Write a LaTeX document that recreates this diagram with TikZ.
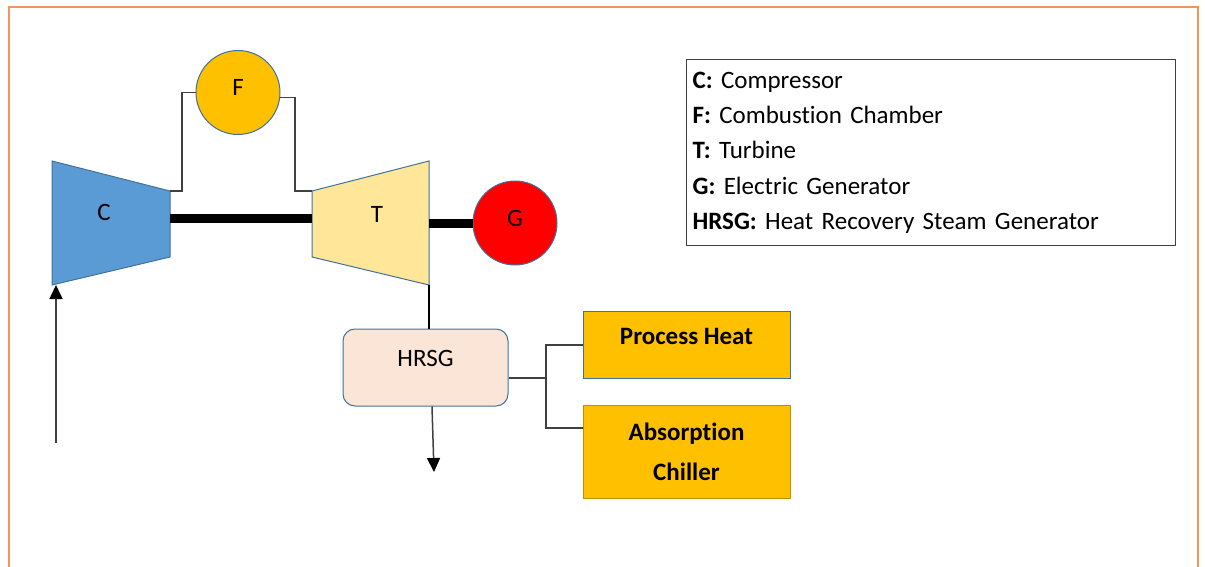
\documentclass[tikz,border=0pt]{standalone}
\usepackage{fontspec}
\setmainfont{Carlito}[Ligatures=NoCommon]
\usepackage{xcolor}
\usepackage{tikz}
\usetikzlibrary{shapes, arrows.meta, positioning, calc}
\frenchspacing

\definecolor{frameorange}{RGB}{241,150,90}
\definecolor{edgeblue}{RGB}{65,113,156}
\definecolor{compblue}{RGB}{91,155,213}
\definecolor{turbyellow}{RGB}{255,230,153}
\definecolor{fuelgold}{RGB}{255,192,0}
\definecolor{hrsgpink}{RGB}{251,229,214}
\definecolor{darkgold}{RGB}{191,144,0}
\definecolor{pipegray}{RGB}{64,64,64}

\begin{document}
\begin{tikzpicture}[
    x=1pt, y=-1pt,
    font=\fontsize{25}{30}\selectfont,
    machine/.style={
        draw=edgeblue,
        line width=1pt
    },
    unit/.style={
        circle,
        draw=edgeblue,
        line width=1pt,
        minimum size=84pt,
        inner sep=0pt,
        text height=16pt,
        text depth=10pt
    },
    block/.style={
        draw=edgeblue,
        line width=1pt,
        minimum width=207pt,
        inner sep=0pt,
        fill=fuelgold,
        align=center,
        font=\fontsize{25}{40}\selectfont\bfseries
    },
    shaft/.style={draw, line width=9pt},
    line/.style={draw=pipegray, line width=1.5pt},
    flow/.style={draw=pipegray, line width=1.5pt, -{Triangle[width=13pt,length=14pt,color=black]}}
]
\useasboundingbox (0,0) rectangle (1205,567);

% frame
\draw[frameorange, line width=2pt] (9,567) -- (9,7) -- (1198,7) -- (1198,567);

% compressor
\coordinate (C-nw) at (52,161);
\coordinate (C-sw) at (52,285);
\coordinate (C-ne) at (170,191);
\coordinate (C-se) at (170,257);
\filldraw[machine, fill=compblue] (C-nw) -- (C-ne) -- (C-se) -- (C-sw) -- cycle;
\node (C) at (104,212) {C};

% turbine
\coordinate (T-nw) at (312,191);
\coordinate (T-sw) at (312,257);
\coordinate (T-ne) at (429,161);
\coordinate (T-se) at (429,285);
\filldraw[machine, fill=turbyellow] (T-nw) -- (T-ne) -- (T-se) -- (T-sw) -- cycle;
\node (T) at (377,214) {T};

\node[unit, fill=fuelgold] (F) at (238,92.5) {F};
\node[unit, fill=red] (G) at (515,223) {G};

\node[draw=edgeblue, line width=1pt, rounded corners=12pt, fill=hrsgpink,
      minimum width=165pt, minimum height=77pt, inner sep=0pt,
      text height=17pt, text depth=20pt] (hrsg) at (425.5,367.5) {HRSG};

\node[block, minimum height=67pt, text height=17pt, text depth=17pt]
    (heat) at (686.5,344.5) {Process Heat};
\node[block, draw=darkgold, minimum height=93pt]
    (chill) at (686.5,451.5) {Absorption\\Chiller};

% legend
\node[draw=pipegray, line width=1.2pt, anchor=north west,
      minimum width=489pt, minimum height=186pt,
      text width=477pt, inner xsep=6pt, align=left,
      font=\fontsize{25}{35.25}\selectfont] (legend) at (686,59)
{\textbf{C:} Compressor\\
 \textbf{F:} Combustion Chamber\\
 \textbf{T:} Turbine\\
 \textbf{G:} Electric Generator\\
 \textbf{HRSG:} Heat Recovery Steam Generator};

\draw[shaft] ($(C-ne)!0.41!(C-se)$) -- ($(T-nw)!0.41!(T-sw)$);
\draw[shaft] (G.west -| T-ne) -- (G.west);
\draw[line] (C-ne) -- ++(12,0) |- (F.west);
\draw[line] (F.-7) -- ++(15,0) |- (T-nw);
\draw[line, draw=black] (T-se) -- (T-se |- hrsg.north);

\coordinate (air) at (56,443);
\draw[flow] (air) -- (air |- C-sw);
\coordinate (exhaust) at (434,472);
\draw[flow] ([xshift=6.5pt]hrsg.south) -- (exhaust);

\draw[line, line width=2pt] ([yshift=-10.5pt]hrsg.east) -- ++(37,0) coordinate (split) |- (heat.west);
\draw[line, line width=2pt] (split) |- ([yshift=23.5pt]chill.west);

\end{tikzpicture}
\end{document}
